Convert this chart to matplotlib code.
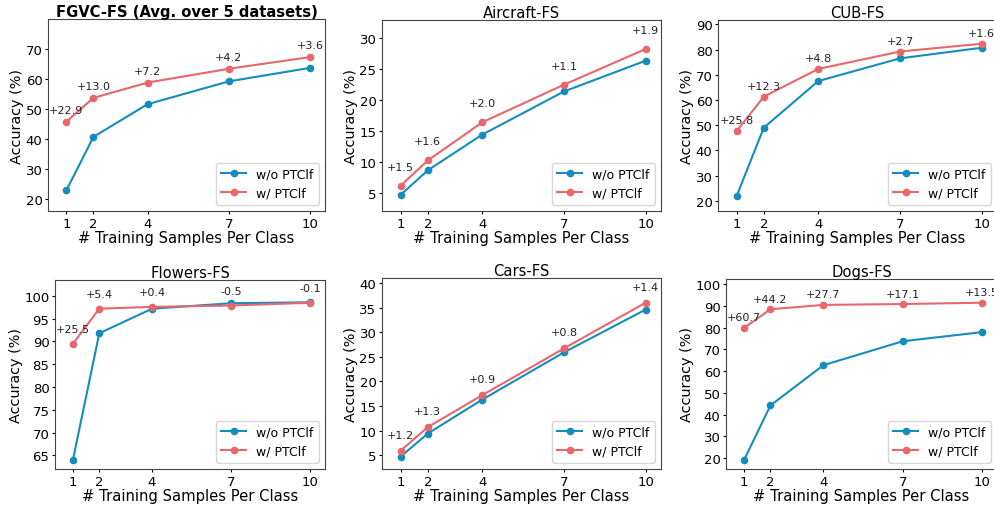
import numpy as np
import matplotlib
matplotlib.use('Agg')
import matplotlib.pyplot as plt

shots = [1, 2, 4, 7, 10]

titles = ['FGVC-FS (Avg. over 5 datasets)', 'Aircraft-FS', 'CUB-FS',
          'Flowers-FS', 'Cars-FS', 'Dogs-FS']

wo_ptclf = [
    [22.9, 40.7, 51.6, 59.2, 63.7],
    [4.6, 8.6, 14.4, 21.4, 26.4],
    [21.8, 49.0, 67.5, 76.5, 80.7],
    [64.0, 91.8, 97.2, 98.4, 98.6],
    [4.7, 9.4, 16.3, 25.9, 34.6],
    [19.1, 44.2, 62.7, 73.7, 77.9],
]
w_ptclf = [
    [45.8, 53.7, 58.8, 63.4, 67.3],
    [6.1, 10.2, 16.4, 22.5, 28.3],
    [47.6, 61.3, 72.3, 79.2, 82.3],
    [89.5, 97.2, 97.6, 97.9, 98.5],
    [5.9, 10.7, 17.2, 26.7, 36.0],
    [79.8, 88.4, 90.4, 90.8, 91.4],
]
gains = [
    ['+22.9', '+13.0', '+7.2', '+4.2', '+3.6'],
    ['+1.5', '+1.6', '+2.0', '+1.1', '+1.9'],
    ['+25.8', '+12.3', '+4.8', '+2.7', '+1.6'],
    ['+25.5', '+5.4', '+0.4', '-0.5', '-0.1'],
    ['+1.2', '+1.3', '+0.9', '+0.8', '+1.4'],
    ['+60.7', '+44.2', '+27.7', '+17.1', '+13.5'],
]
yticks = [
    [20, 30, 40, 50, 60, 70],
    [5, 10, 15, 20, 25, 30],
    [20, 30, 40, 50, 60, 70, 80, 90],
    [65, 70, 75, 80, 85, 90, 95, 100],
    [5, 10, 15, 20, 25, 30, 35, 40],
    [20, 30, 40, 50, 60, 70, 80, 90, 100],
]
ylims = [(16, 80), (2, 33), (16, 91.7), (62, 103.5), (2.2, 41), (15, 102.3)]

# axes boxes in pixels: left, right, top, bottom
boxes = [(48, 325, 20, 212), (382, 661, 21, 212), (718, 997, 21, 212),
         (55, 325, 281, 470), (382, 661, 279, 470), (726, 997, 280, 470)]
# annotation offset above the red point (pixels)
offs = [12, 19, 11, 15, 16, 10.5]

W, H = 995, 506
blue = '#168cbd'
red = '#e8676b'

fig = plt.figure(figsize=(W / 100, H / 100), dpi=100)

for i in range(6):
    l, r, t, b = boxes[i]
    ax = fig.add_axes([l / W, 1 - b / H, (r - l) / W, (b - t) / H])
    ax.plot(shots, wo_ptclf[i], '-o', color=blue, lw=1.5, ms=4.5, label='w/o PTClf')
    ax.plot(shots, w_ptclf[i], '-o', color=red, lw=1.5, ms=4.5, label='w/ PTClf')
    for x, y, g in zip(shots, w_ptclf[i], gains[i]):
        ax.annotate(g, (x, y), xytext=(0, offs[i] * 0.72), textcoords='offset points',
                    ha='center', va='center', fontsize=8, color='#222222')
    ax.set_xticks(shots)
    ax.set_xlim(0.32, 10.56)
    ax.set_yticks(yticks[i])
    ax.set_ylim(*ylims[i])
    ax.tick_params(labelsize=9.5, length=2.2, pad=1.8)
    ax.set_xlabel('# Training Samples Per Class', fontsize=10.6, labelpad=0.5)
    ax.set_ylabel('Accuracy (%)', fontsize=10.4, labelpad=1)
    for s in ax.spines.values():
        s.set_color('#444444')
    if i == 0:
        ax.set_title(titles[i], fontsize=10.6, fontweight='bold', pad=2.5)
    else:
        ax.set_title(titles[i], fontsize=10.6, pad=2.5)
    ax.legend(loc='lower right', fontsize=9)

fig.savefig('out.png', dpi=100)
